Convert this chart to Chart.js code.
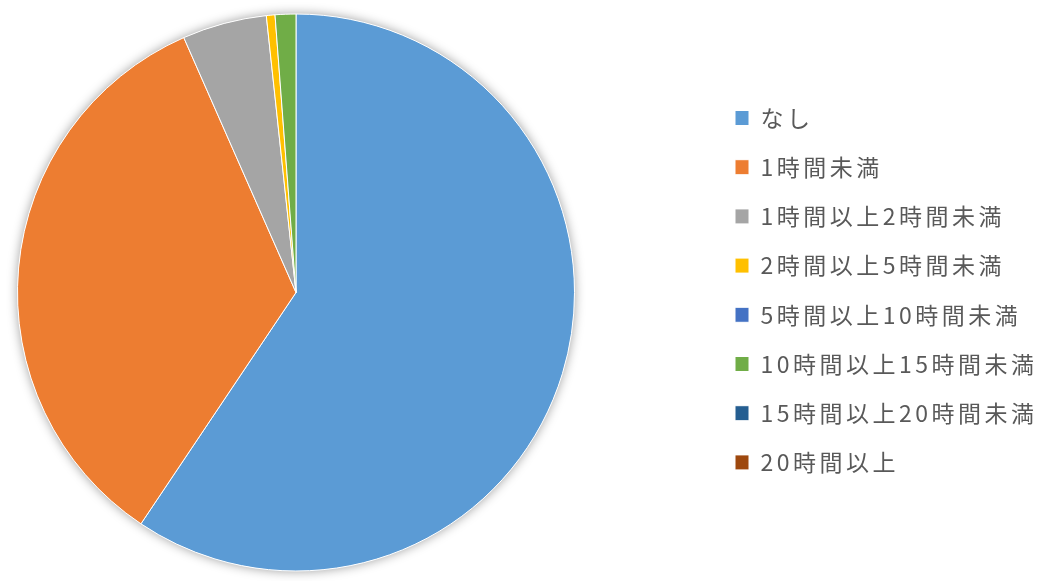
<!DOCTYPE html>
<html>
<head>
<meta charset="utf-8">
<script src="https://cdn.jsdelivr.net/npm/chart.js@4"></script>
<style>
  html, body { margin: 0; padding: 0; background: #fff; }
  #wrap { width: 1038px; height: 581px; }
</style>
</head>
<body>
<div id="wrap"><canvas id="chart1"></canvas></div>
<script>
var labels = ['なし', '1時間未満', '1時間以上2時間未満', '2時間以上5時間未満',
  '5時間以上10時間未満', '10時間以上15時間未満', '15時間以上20時間未満', '20時間以上'];
var values = [59.4, 34.0, 4.9, 0.5, 0.0, 1.2, 0.0, 0.0];
var colors = ['#5B9BD5', '#ED7D31', '#A5A5A5', '#FFC000', '#4472C4', '#70AD47', '#255E91', '#9E480E'];

// place pie and legend where the original has them
var placePlugin = {
  id: 'place',
  beforeLayout(chart) {
    chart.ctx.letterSpacing = '3.5px';
  },
  afterLayout(chart) {
    var a = chart.chartArea;
    a.left = 17; a.right = 575; a.top = 13; a.bottom = 572;
    a.width = a.right - a.left; a.height = a.bottom - a.top;
    var lg = chart.legend;
    var pad = lg.options.labels.padding;
    var w = lg.width;
    lg.left = 735 - pad; lg.right = lg.left + w;
    lg.top = 10; lg.bottom = 570.4;
    lg.height = lg.bottom - lg.top;
  },
  beforeDraw(chart) {
    chart.ctx.letterSpacing = '3.5px';
  },
  beforeDatasetsDraw(chart) {
    var arc = chart.getDatasetMeta(0).data[0];
    if (!arc) return;
    var ctx = chart.ctx;
    ctx.save();
    ctx.shadowColor = 'rgba(0,0,0,0.4)';
    ctx.shadowBlur = 11;
    ctx.fillStyle = '#fff';
    ctx.beginPath();
    ctx.arc(arc.x, arc.y, arc.outerRadius, 0, Math.PI * 2);
    ctx.fill();
    ctx.restore();
  }
};

function renderPie(data, labels, idChart) {
  var ctx = document.getElementById(idChart).getContext('2d');
  var pieChart = new Chart(ctx, {
    type: 'pie',
    data: {
      labels: labels,
      datasets: [{
        data: data,
        backgroundColor: colors,
        borderColor: '#fff',
        borderWidth: 1
      }]
    },
    options: {
      responsive: true,
      maintainAspectRatio: false,
      animation: false,
      layout: { padding: { left: 17, top: 13, bottom: 9, right: 5 } },
      plugins: {
        tooltip: { enabled: false },
        legend: {
          position: 'right',
          labels: {
            boxWidth: 14,
            boxHeight: 15,
            padding: 26.2,
            color: '#595959',
            font: { family: '"Noto Sans CJK JP", "Noto Sans", sans-serif', size: 23 }
          }
        }
      }
    },
    plugins: [placePlugin]
  });
  return pieChart;
}

renderPie(values, labels, 'chart1');
</script>
</body>
</html>
